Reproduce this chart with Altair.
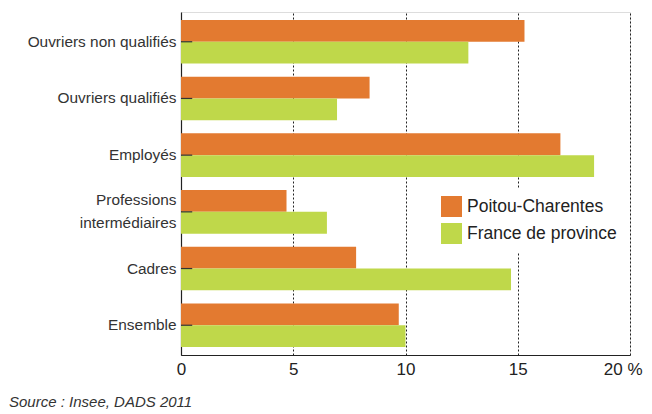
import altair as alt
import pandas as pd

categories = ["Ouvriers non qualifiés", "Ouvriers qualifiés", "Employés",
              "Professions intermédiaires", "Cadres", "Ensemble"]
series = ["Poitou-Charentes", "France de province"]
poitou = [15.3, 8.4, 16.9, 4.7, 7.8, 9.7]
france = [12.8, 6.95, 18.4, 6.5, 14.7, 10.0]
x_ticks = [0, 5, 10, 15, 20]
colors = ["#E37A30", "#BFD84A"]
source = "Source : Insee, DADS 2011"

rows = []
for c, p, f in zip(categories, poitou, france):
    rows.append({"cat": c, "serie": series[0], "val": p, "ord": 0})
    rows.append({"cat": c, "serie": series[1], "val": f, "ord": 1})
df = pd.DataFrame(rows)
tick_df = pd.DataFrame({"cat": categories, "x0": [0] * len(categories), "x1": [0.5] * len(categories)})

FONT = "Liberation Sans"
MULTI = "Professions intermédiaires"

y_enc = alt.Y(
    "cat:N", sort=categories, title=None,
    scale=alt.Scale(paddingInner=0.23, paddingOuter=0.14),
    axis=alt.Axis(
        labelFont=FONT, labelFontSize=15.4, labelColor="#333333",
        labelExpr=f"datum.value == '{MULTI}' ? ['Professions', 'intermédiaires'] : datum.value",
        labelOffset={"condition": {"test": f"datum.value == '{MULTI}'", "value": -11.5}, "value": 0},
        labelLineHeight=23, labelPadding=5, ticks=False,
        domainColor="#222222", domainWidth=1.2, grid=False, labelLimit=300,
    ),
)

bars = alt.Chart(df).mark_bar(opacity=1).encode(
    x=alt.X(
        "val:Q", title=None,
        scale=alt.Scale(domain=[0, 20], nice=False),
        axis=alt.Axis(
            values=x_ticks, labelFont=FONT, labelFontSize=17, labelColor="#222222",
            labelExpr="datum.value == 20 ? '20 %' : datum.label",
            labelAlign={"condition": {"test": "datum.value == 20", "value": "right"}, "value": "center"},
            labelOffset={"condition": {"test": "datum.value == 20", "value": 12}, "value": 0},
            labelPadding=6, ticks=False, domainColor="#222222", domainWidth=1.2,
            grid=True, gridColor="#222222", gridDash=[2, 2], gridWidth=1,
            labelFlush=False,
        ),
    ),
    y=y_enc,
    yOffset=alt.YOffset("serie:N", sort=series, scale=alt.Scale(paddingInner=0, paddingOuter=0)),
    color=alt.Color(
        "serie:N", sort=series,
        scale=alt.Scale(domain=series, range=colors),
        legend=alt.Legend(
            title=None, orient="none", legendX=252, legendY=176,
            fillColor="white", padding=8, symbolType="square", symbolSize=441,
            symbolStrokeWidth=0, symbolOpacity=1, labelFont=FONT, labelFontSize=17.5,
            labelColor="#222222", labelOffset=5, rowPadding=6,
        ),
    ),
)

ticks = alt.Chart(tick_df).mark_rule(color="#333333", strokeWidth=1.2).encode(
    x="x0:Q", x2="x1:Q", y=alt.Y("cat:N", sort=categories),
)

chart = alt.layer(bars, ticks).properties(
    width=449, height=343,
    autosize=alt.AutoSizeParams(type="none"),
    padding={"left": 173, "top": 4, "right": 14, "bottom": 59},
    title=alt.TitleParams(
        text=source, orient="bottom", anchor="start", frame="group",
        dx=-172, offset=18, font=FONT, fontSize=15, fontStyle="italic",
        fontWeight="normal", color="#333333",
    ),
).configure_view(stroke=None).configure(background="white")

chart.save("out.html", embed_options={"renderer": "svg", "actions": False})
